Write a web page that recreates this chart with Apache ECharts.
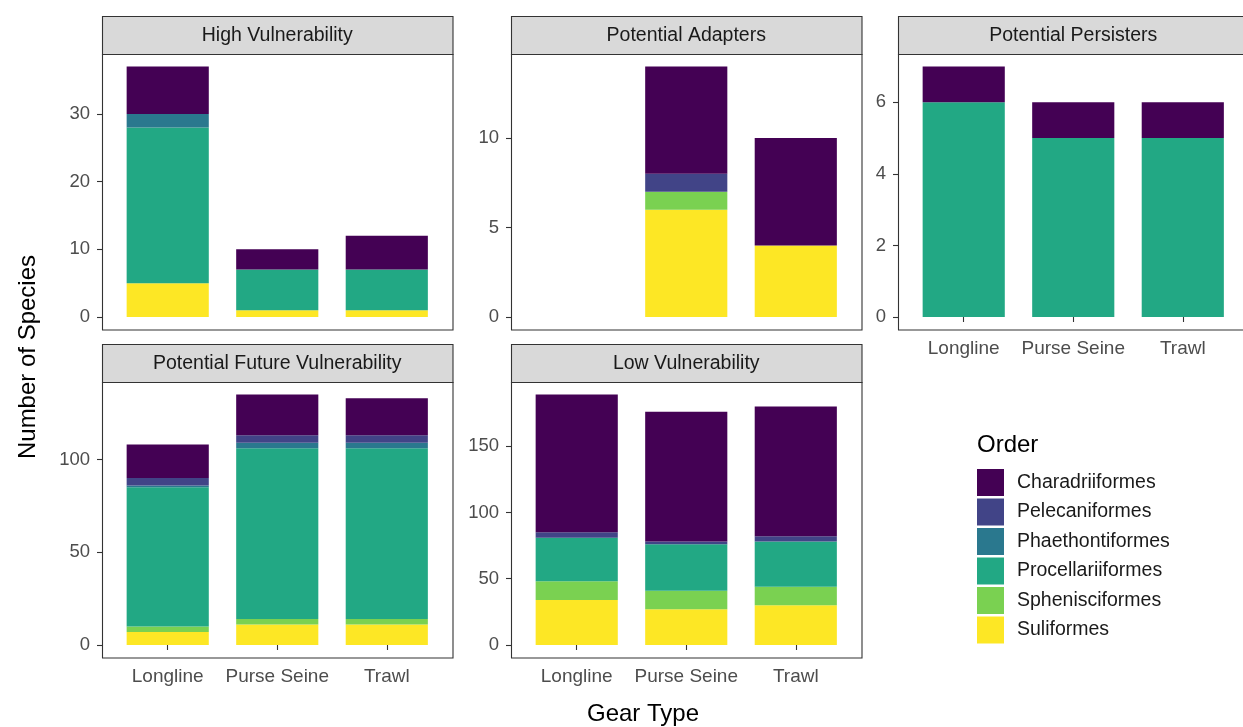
<!DOCTYPE html>
<html>
<head>
<meta charset="utf-8">
<script src="https://cdn.jsdelivr.net/npm/echarts@6/dist/echarts.min.js"></script>
<style>
html, body { margin: 0; padding: 0; background: #fff; }
#main { width: 1243px; height: 727px; }
</style>
</head>
<body>
<div id="main"></div>
<script>
var gearTypes = ['Longline', 'Purse Seine', 'Trawl'];
var orders = ['Charadriiformes', 'Pelecaniformes', 'Phaethontiformes', 'Procellariiformes', 'Sphenisciformes', 'Suliformes'];
var orderColors = ['#440154', '#414487', '#2a788e', '#22a884', '#7ad151', '#fde725'];

// rows follow `orders`, columns follow `gearTypes`
var highVulnerability = [
    [7, 3, 5],
    [0, 0, 0],
    [2, 0, 0],
    [23, 6, 6],
    [0, 0, 0],
    [5, 1, 1]
];
var potentialAdapters = [
    [0, 6, 6],
    [0, 1, 0],
    [0, 0, 0],
    [0, 0, 0],
    [0, 1, 0],
    [0, 6, 4]
];
var potentialPersisters = [
    [1, 1, 1],
    [0, 0, 0],
    [0, 0, 0],
    [6, 5, 5],
    [0, 0, 0],
    [0, 0, 0]
];
var futureVulnerability = [
    [18, 22, 20],
    [4, 4, 4],
    [1, 3, 3],
    [75, 92, 92],
    [3, 3, 3],
    [7, 11, 11]
];
var lowVulnerability = [
    [104, 98, 98],
    [4, 2, 4],
    [0, 0, 0],
    [33, 35, 34],
    [14, 14, 14],
    [34, 27, 30]
];

var highTicks = [0, 10, 20, 30];
var adapterTicks = [0, 5, 10];
var persisterTicks = [0, 2, 4, 6];
var futureTicks = [0, 50, 100];
var lowTicks = [0, 50, 100, 150];

var font = '"Liberation Sans", Arial, Helvetica, sans-serif';
var panelW = 350.5, plotH = 275.5, stripH = 38;
var colLeft = [102, 511, 898];
var rowTop = [54, 382];
var padX = 0.1 * panelW / 3.2;      // ggplot discrete expansion 0.6 vs echarts 0.5
var padY = plotH * 0.05 / 1.1;      // ggplot 5% continuous expansion

var panels = [
    { title: 'High Vulnerability', values: highVulnerability, ticks: highTicks, col: 0, row: 0, xLabels: false },
    { title: 'Potential Adapters', values: potentialAdapters, ticks: adapterTicks, col: 1, row: 0, xLabels: false },
    { title: 'Potential Persisters', values: potentialPersisters, ticks: persisterTicks, col: 2, row: 0, xLabels: true },
    { title: 'Potential Future Vulnerability', values: futureVulnerability, ticks: futureTicks, col: 0, row: 1, xLabels: true },
    { title: 'Low Vulnerability', values: lowVulnerability, ticks: lowTicks, col: 1, row: 1, xLabels: true }
];

var grids = [], xAxes = [], yAxes = [], series = [], graphics = [];

panels.forEach(function (p, i) {
    var L = colLeft[p.col], T = rowTop[p.row];
    var totals = gearTypes.map(function (g, j) {
        return p.values.reduce(function (s, row) { return s + row[j]; }, 0);
    });
    grids.push({ left: L + padX, top: T + padY, width: panelW - 2 * padX, height: plotH - 2 * padY });
    xAxes.push({
        type: 'category', gridIndex: i, data: gearTypes, offset: padY,
        axisLine: { show: false },
        axisTick: { show: p.xLabels, alignWithLabel: true, length: 5, lineStyle: { color: '#333', width: 1.1 } },
        axisLabel: { show: p.xLabels, interval: 0, hideOverlap: false, color: '#4d4d4d', fontSize: 19, fontFamily: font, margin: 10 }
    });
    yAxes.push({
        type: 'value', gridIndex: i, min: 0, max: Math.max.apply(null, totals), offset: padX,
        splitLine: { show: false },
        axisLine: { show: false },
        axisTick: { show: true, length: 5, customValues: p.ticks, lineStyle: { color: '#333', width: 1.1 } },
        axisLabel: { color: '#4d4d4d', fontSize: 18.5, fontFamily: font, margin: 12, customValues: p.ticks }
    });
    for (var k = orders.length - 1; k >= 0; k--) {
        series.push({
            name: orders[k], type: 'bar', stack: 'p' + i,
            xAxisIndex: i, yAxisIndex: i, barWidth: '75%',
            data: p.values[k],
            itemStyle: { color: orderColors[k] },
            emphasis: { disabled: true }
        });
    }
    graphics.push({
        type: 'rect', shape: { x: L + 0.5, y: T - stripH + 0.5, width: panelW, height: stripH },
        style: { fill: '#d9d9d9', stroke: '#333', lineWidth: 1.1 }
    });
    graphics.push({
        type: 'text', x: L + panelW / 2, y: T - stripH / 2 + 1,
        style: { text: p.title, fontSize: 19.5, fontFamily: font, fill: '#1a1a1a', align: 'center', verticalAlign: 'middle' }
    });
    graphics.push({
        type: 'rect', shape: { x: L + 0.5, y: T + 0.5, width: panelW, height: plotH },
        style: { fill: null, stroke: '#333', lineWidth: 1.1 }, z: 10
    });
});

graphics.push({
    type: 'text', x: 28, y: 357, rotation: Math.PI / 2,
    style: { text: 'Number of Species', fontSize: 24, fontFamily: font, fill: '#000', align: 'center', verticalAlign: 'middle' }
});
graphics.push({
    type: 'text', x: 643, y: 714,
    style: { text: 'Gear Type', fontSize: 24, fontFamily: font, fill: '#000', align: 'center', verticalAlign: 'middle' }
});
graphics.push({
    type: 'text', x: 977, y: 445,
    style: { text: 'Order', fontSize: 24, fontFamily: font, fill: '#000', align: 'left', verticalAlign: 'middle' }
});

var myChart = echarts.init(document.getElementById('main'));
var option = {
    animation: false,
    backgroundColor: '#fff',
    legend: {
        orient: 'vertical', left: 977, top: 469, padding: 0,
        data: orders, icon: 'rect',
        itemWidth: 27, itemHeight: 27, itemGap: 2.5,
        selectedMode: false,
        textStyle: { fontSize: 19.5, fontFamily: font, color: '#1a1a1a', padding: [0, 0, 0, 8] }
    },
    grid: grids,
    xAxis: xAxes,
    yAxis: yAxes,
    series: series,
    graphic: graphics
};
myChart.setOption(option);
</script>
</body>
</html>
